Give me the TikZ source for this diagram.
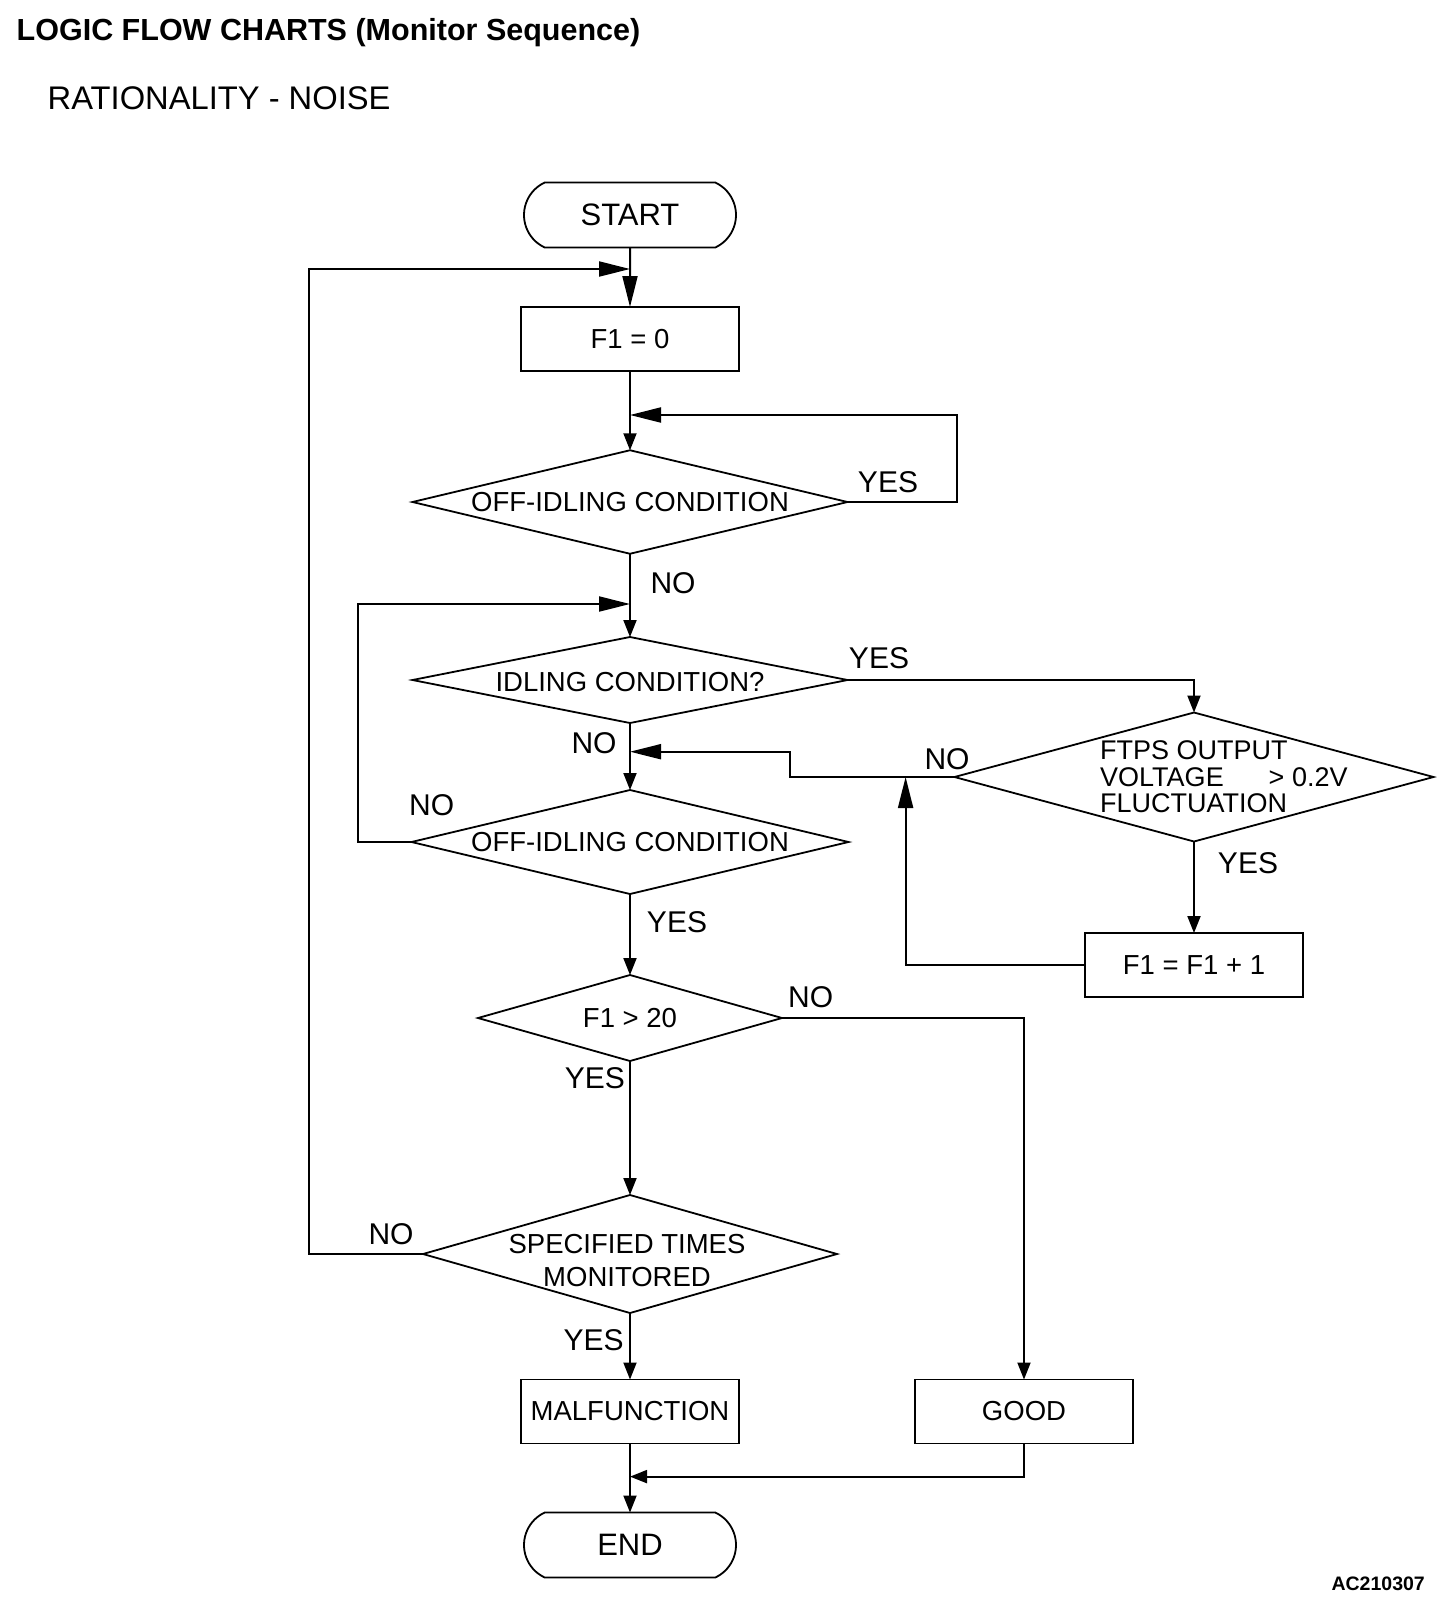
\documentclass[tikz,border=0pt]{standalone}
\usepackage{fontspec}
\setmainfont{Liberation Sans}
\usetikzlibrary{shapes.geometric,shapes.misc,arrows.meta}
\newcommand\nfnt{\fontsize{27.5}{33}\selectfont}
\newcommand\lfnt{\fontsize{30}{36}\selectfont}
\newcommand\tfnt{\fontsize{31}{36}\selectfont}
\begin{document}
\begin{tikzpicture}[x=1pt,y=-1pt,
  box/.style={draw, rectangle, minimum width=218pt, minimum height=64pt, inner sep=0pt, outer sep=0pt, line width=1.8pt, font=\nfnt},
  term/.style={draw, rounded rectangle, rounded rectangle arc length=130, minimum width=212pt, minimum height=65pt, inner sep=0pt, outer sep=0pt, line width=1.8pt, font=\tfnt},
  dec/.style={draw, diamond, inner sep=0pt, outer sep=0pt, line width=1.8pt},
  txt/.style={inner sep=0pt, font=\nfnt},
  lbl/.style={inner sep=0pt, font=\lfnt},
  conn/.style={line width=2pt},
  flow/.style={conn, -{Triangle[length=17pt,width=13pt]}},
  flowlong/.style={conn, -{Triangle[length=31pt,width=15pt]}}
]
\fill[white] (0,0) rectangle (1456,1618);
\useasboundingbox (0,0) rectangle (1456,1618);

% titles
\node[anchor=base west, inner sep=0pt, font=\bfseries\fontsize{30.5}{36}\selectfont] (title) at (16.5,40) {LOGIC FLOW CHARTS (Monitor Sequence)};
\node[anchor=base west, inner sep=0pt, font=\fontsize{32.7}{38}\selectfont] (sub) at (47.5,109.5) {RATIONALITY - NOISE};

% nodes
\node[term] (start) at (630,215) {START};
\node[box] (f0) at (630,339) {F1 = 0};
\node[dec, minimum width=435pt, minimum height=103.5pt] (d1) at (630,502) {};
\node[txt] (t1) at (d1.center) {OFF-IDLING CONDITION};
\node[dec, minimum width=435pt, minimum height=86pt] (d2) at (630,680) {};
\node[txt] (t2) at (630,682) {IDLING CONDITION?};
\node[dec, minimum width=479pt, minimum height=129pt] (ftps) at (1194,777) {};
\node[txt, anchor=west, align=left, font=\fontsize{27}{26.5}\selectfont] (t3) at (1100,777) {FTPS OUTPUT\\VOLTAGE\hspace{45pt}> 0.2V\\FLUCTUATION};
\node[dec, minimum width=437pt, minimum height=104pt] (d3) at (630,842) {};
\node[txt] (t4) at (d3.center) {OFF-IDLING CONDITION};
\node[box] (f11) at (1194,965) {F1 = F1 + 1};
\node[dec, minimum width=304pt, minimum height=86pt] (f20) at (630,1018) {};
\node[txt] (t5) at (f20.center) {F1 > 20};
\node[dec, minimum width=414pt, minimum height=118pt] (spec) at (630,1254) {};
\node[txt, align=center, font=\fontsize{27.5}{33}\selectfont] (t6) at (627,1260.5) {SPECIFIED TIMES\\MONITORED};
\node[box] (malf) at (630,1411.5) {MALFUNCTION};
\node[box] (good) at (1024,1411.5) {GOOD};
\node[term] (end) at (630,1545) {END};
\node[anchor=base east, inner sep=0pt, font=\bfseries\fontsize{19.5}{23}\selectfont] (code) at (1425,1590) {AC210307};

% join points
\coordinate (j0) at (630,269);
\coordinate (j1) at (630,415);
\coordinate (j2) at (630,604);
\coordinate (j3) at (630,751.7);
\coordinate (j4) at (630,1476.6);
\coordinate (r1) at (905.6,777);

% labels
\node[lbl] (y1) at (888,482) {YES};
\node[lbl] (n1) at (673,583) {NO};
\node[lbl] (y2) at (879,658) {YES};
\node[lbl] (n2) at (594,743.5) {NO};
\node[lbl] (n3) at (947,759) {NO};
\node[lbl] (n4) at (431.6,805.4) {NO};
\node[lbl] (y4) at (677,922) {YES};
\node[lbl] (y3) at (1248,863) {YES};
\node[lbl] (n5) at (810.6,997.5) {NO};
\node[lbl] (y5) at (594.8,1078) {YES};
\node[lbl] (n6) at (391,1234) {NO};
\node[lbl] (y6) at (593.7,1340) {YES};

% connectors
\draw[flowlong] (start) -- (f0);
\draw[flowlong] (spec.west) -- ++(-114.4,0) |- (j0);
\draw[flow] (f0) -- (d1.north);
\draw[flowlong] (d1.east) -- ++(109.3,0) |- (j1);
\draw[flow] (d1.south) -- (d2.north);
\draw[flowlong] (d3.west) -- ++(-53.7,0) |- (j2);
\draw[flow] (d2.east) -| (ftps.north);
\draw[flow] (d2.south) -- (d3.north);
\draw[flowlong] (ftps.west) -- ++(-165,0) |- (j3);
\draw[flow] (ftps.south) -- (f11.north);
\draw[flowlong] (f11.west) -| (r1);
\draw[flow] (d3.south) -- (f20.north);
\draw[flow] (f20.east) -| (good.north);
\draw[flow] (f20.south) -- (spec.north);
\draw[flow] (spec.south) -- (malf.north);
\draw[flow] (malf.south) -- (end.north);
\draw[flow] (good.south) |- (j4);
\end{tikzpicture}
\end{document}
